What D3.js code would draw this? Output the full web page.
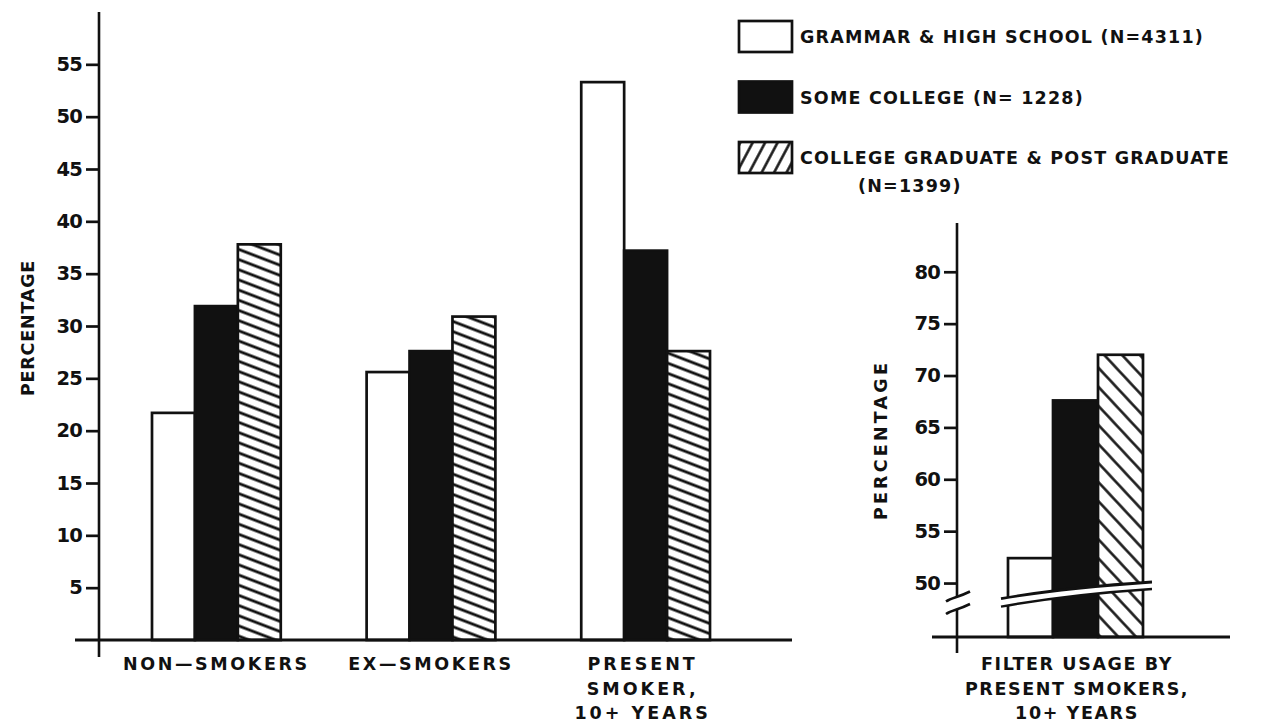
<!DOCTYPE html>
<html>
<head>
<meta charset="utf-8">
<script src="https://cdn.jsdelivr.net/npm/d3@7"></script>
<style>
  body { margin: 0; background: #fff; }
  svg { display: block; }
  text { font-family: "DejaVu Sans", sans-serif; font-weight: bold; fill: #111; }
</style>
</head>
<body>
<svg id="chart" width="1261" height="724"></svg>
<script>
// ---------- DATA ----------
const groups = ["NON-SMOKERS", "EX-SMOKERS", "PRESENT SMOKER"];
const groupLabels = [["NON\u2014SMOKERS"], ["EX\u2014SMOKERS"], ["PRESENT", "SMOKER,", "10+ YEARS"]];
const seriesNames = ["Grammar & High School", "Some College", "College Graduate & Post Graduate"];
const legendLabels = [["GRAMMAR & HIGH SCHOOL (N=4311)"], ["SOME COLLEGE (N= 1228)"], ["COLLEGE GRADUATE & POST GRADUATE", "(N=1399)"]];
const grammarValues = [21.7, 25.6, 53.3];
const someCollegeValues = [31.9, 27.6, 37.2];
const graduateValues = [37.8, 30.9, 27.6];
const leftTicks = [5, 10, 15, 20, 25, 30, 35, 40, 45, 50, 55];

const filterGroup = ["FILTER USAGE"];
const filterLabel = ["FILTER USAGE BY", "PRESENT SMOKERS,", "10+ YEARS"];
const filterValues = [52.4, 67.6, 72.0];
const rightTicks = [50, 55, 60, 65, 70, 75, 80];

const svg = d3.select("#chart");
const ink = "#111";

// ---------- PATTERNS ----------
const defs = svg.append("defs");
function hatch(id, spacing, angle, width) {
  const p = defs.append("pattern").attr("id", id)
    .attr("patternUnits", "userSpaceOnUse")
    .attr("width", 40).attr("height", spacing)
    .attr("patternTransform", `rotate(${angle})`);
  p.append("rect").attr("width", 40).attr("height", spacing).attr("fill", "#fff");
  p.append("line").attr("x1", 0).attr("x2", 40).attr("y1", spacing / 2).attr("y2", spacing / 2)
    .attr("stroke", ink).attr("stroke-width", width);
}
hatch("hatchLeft", 9.5, 21, 2.7);
hatch("hatchRight", 13, 47, 2.5);
hatch("hatchLegend", 11, -62, 2.5);

// ---------- LEFT CHART ----------
const yL = d3.scaleLinear().domain([0, 60]).range([640, 12]);
const x0 = d3.scaleBand().domain(groups).range([152, 710]).paddingInner(0.4).paddingOuter(0);
const x1 = d3.scaleBand().domain(seriesNames).range([0, x0.bandwidth()]);
const fillsLeft = ["#fff", ink, "url(#hatchLeft)"];
const seriesValues = [grammarValues, someCollegeValues, graduateValues];

const left = svg.append("g");
groups.forEach((g, gi) => {
  seriesNames.forEach((s, si) => {
    const v = seriesValues[si][gi];
    left.append("rect")
      .attr("x", x0(g) + x1(s))
      .attr("y", yL(v))
      .attr("width", x1.bandwidth())
      .attr("height", yL(0) - yL(v))
      .attr("fill", fillsLeft[si])
      .attr("stroke", ink).attr("stroke-width", 2.7);
  });
});

// y axis
const axL = left.append("g").attr("transform", `translate(99,0)`)
  .call(d3.axisLeft(yL).tickValues(leftTicks).tickSize(13).tickPadding(4).tickSizeOuter(0));
axL.select(".domain").remove();
axL.selectAll(".tick line").attr("stroke", ink).attr("stroke-width", 2.7);
axL.selectAll(".tick text").attr("font-size", 19.5).attr("font-family", "DejaVu Sans").attr("font-weight", "bold")
  .attr("fill", ink).attr("letter-spacing", -0.8);
left.append("line").attr("x1", 99).attr("x2", 99).attr("y1", yL(60)).attr("y2", yL(0) + 17)
  .attr("stroke", ink).attr("stroke-width", 2.6);
// baseline
left.append("line").attr("x1", 75).attr("x2", 792).attr("y1", yL(0)).attr("y2", yL(0))
  .attr("stroke", ink).attr("stroke-width", 3);

// x labels
groups.forEach((g, gi) => {
  const t = left.append("text").attr("text-anchor", "middle")
    .attr("font-size", 17.5).attr("letter-spacing", gi === 2 ? 3.0 : 2.6);
  groupLabels[gi].forEach((line, li) => {
    t.append("tspan").attr("x", x0(g) + x0.bandwidth() / 2 + (gi === 2 ? -3 : 0)).attr("y", 670 + li * 24.5).text(line);
  });
});
left.append("text").attr("transform", "translate(34,328) rotate(-90)")
  .attr("text-anchor", "middle").attr("font-size", 17.5).attr("letter-spacing", 0.8).text("PERCENTAGE");

// ---------- LEGEND ----------
const legend = svg.append("g");
const legendFills = ["#fff", ink, "url(#hatchLegend)"];
const legendY = d3.scalePoint().domain(seriesNames).range([36, 157]);
seriesNames.forEach((s, i) => {
  const cy = legendY(s);
  legend.append("rect").attr("x", 739).attr("y", cy - 15).attr("width", 53).attr("height", 31)
    .attr("fill", legendFills[i]).attr("stroke", ink).attr("stroke-width", 2.7);
  const t = legend.append("text").attr("font-size", 17.5).attr("letter-spacing", 1.2);
  legendLabels[i].forEach((line, li) => {
    t.append("tspan").attr("x", li === 0 ? 800 : 858).attr("y", cy + 7 + li * 28).text(line);
  });
});

// ---------- RIGHT CHART ----------
const yR = d3.scaleLinear().domain([44.8, 84.7]).range([637, 223]);
const xR0 = d3.scaleBand().domain(filterGroup).range([1008, 1143]);
const xR1 = d3.scaleBand().domain(seriesNames).range([0, xR0.bandwidth()]);
const fillsRight = ["#fff", ink, "url(#hatchRight)"];
const right = svg.append("g");
seriesNames.forEach((s, si) => {
  const v = filterValues[si];
  right.append("rect")
    .attr("x", xR0(filterGroup[0]) + xR1(s))
    .attr("y", yR(v))
    .attr("width", xR1.bandwidth())
    .attr("height", yR(44.8) - yR(v))
    .attr("fill", fillsRight[si])
    .attr("stroke", ink).attr("stroke-width", 2.7);
});

// broken-scale band across the bars
const bx0 = 1001, bx1 = 1152;
const yTopL = yR(48.5), yTopR = yR(50.1);
const curve = (yl, yr) => `M${bx0},${yl} C${bx0 + 40},${yl - 7} ${bx1 - 60},${yr + 4} ${bx1},${yr}`;
right.append("path")
  .attr("d", `${curve(yTopL, yTopR)} L${bx1},${yTopR + 7} C${bx1 - 60},${yTopR + 11} ${bx0 + 40},${yTopL} ${bx0},${yTopL + 8} Z`)
  .attr("fill", "#fff").attr("stroke", "none");
right.append("path").attr("d", curve(yTopL, yTopR)).attr("fill", "none").attr("stroke", ink).attr("stroke-width", 2.8);
right.append("path").attr("d", curve(yTopL + 8, yTopR + 7)).attr("fill", "none").attr("stroke", ink).attr("stroke-width", 2.4);

// y axis
const axR = right.append("g").attr("transform", "translate(957,0)")
  .call(d3.axisLeft(yR).tickValues(rightTicks).tickSize(13).tickPadding(4).tickSizeOuter(0));
axR.select(".domain").remove();
axR.selectAll(".tick line").attr("stroke", ink).attr("stroke-width", 2.7);
axR.selectAll(".tick text").attr("font-size", 19.5).attr("font-family", "DejaVu Sans").attr("font-weight", "bold")
  .attr("fill", ink).attr("letter-spacing", -0.8);
const gapTop = yR(48.7), gapBot = yR(47.5);
right.append("line").attr("x1", 957).attr("x2", 957).attr("y1", yR(84.7)).attr("y2", gapTop)
  .attr("stroke", ink).attr("stroke-width", 2.6);
right.append("line").attr("x1", 957).attr("x2", 957).attr("y1", gapBot).attr("y2", yR(44.8) + 16)
  .attr("stroke", ink).attr("stroke-width", 2.6);
[gapTop, gapBot].forEach(yy => {
  right.append("path").attr("d", `M946,${yy + 5} C952,${yy + 1} 958,${yy + 1} 970,${yy - 5}`)
    .attr("fill", "none").attr("stroke", ink).attr("stroke-width", 2.6);
});
// baseline
right.append("line").attr("x1", 932).attr("x2", 1230).attr("y1", yR(44.8)).attr("y2", yR(44.8))
  .attr("stroke", ink).attr("stroke-width", 3);

const tR = right.append("text").attr("text-anchor", "middle").attr("font-size", 17.5).attr("letter-spacing", 1.6);
filterLabel.forEach((line, li) => {
  tR.append("tspan").attr("x", 1077).attr("y", 670 + li * 24.5).text(line);
});
right.append("text").attr("transform", "translate(887,440) rotate(-90)")
  .attr("text-anchor", "middle").attr("font-size", 17.5).attr("letter-spacing", 3.2).text("PERCENTAGE");
</script>
</body>
</html>
